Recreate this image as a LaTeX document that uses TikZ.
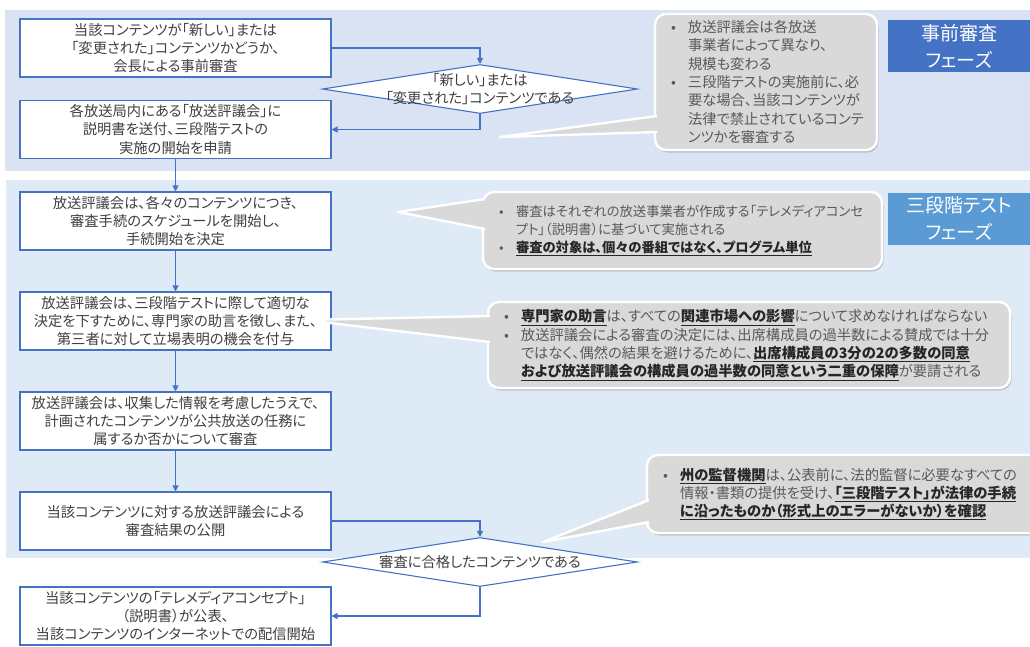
\documentclass[tikz,border=0pt]{standalone}
\usepackage{fontspec}
\setmainfont{Noto Sans CJK JP}[RawFeature=+palt]
\usepackage{tikz}
\usetikzlibrary{shapes.geometric, arrows.meta, shadows}
\definecolor{boxblue}{HTML}{4472C4}
\definecolor{phaseone}{HTML}{4472C4}
\definecolor{phasetwo}{HTML}{5B9BD5}
\definecolor{bandone}{HTML}{DAE3F3}
\definecolor{bandtwo}{HTML}{DEEBF7}
\definecolor{notegray}{HTML}{D9D9D9}
\definecolor{noteink}{HTML}{595959}
\definecolor{keyink}{HTML}{262626}
\definecolor{boxink}{HTML}{404040}
\newcommand{\itemmark}{\makebox[17pt][l]{•}}
\newcommand{\itemgap}{\hspace*{17pt}}
\newcommand{\keyword}[1]{{\color{keyink}\underline{\textbf{#1}}}}
\tikzstyle{process}  = [rectangle, minimum width=311pt, minimum height=58pt, inner sep=2pt, text centered, align=center, draw=boxblue, line width=1.1pt, fill=white, text=boxink, font=\fontsize{14.3}{18.3}\selectfont]
\tikzstyle{decision} = [diamond, minimum width=315pt, minimum height=49pt, inner sep=0pt, draw=boxblue, line width=1.1pt, fill=white]
\tikzstyle{phase}    = [rectangle, minimum width=142pt, minimum height=52pt, text centered, align=center, text=white, font=\fontsize{19}{27}\selectfont]
\tikzstyle{note}     = [rectangle, rounded corners=11pt, fill=notegray, draw=white, line width=2.4pt, drop shadow={shadow xshift=1.5pt, shadow yshift=-2.5pt, opacity=.35}, align=left, inner xsep=16pt, inner ysep=4pt, text=noteink, font=\fontsize{14.3}{18.3}\selectfont]
\tikzstyle{pointer}  = [fill=notegray, draw=white, line width=2.4pt, line join=round]
\tikzstyle{arrow}    = [line width=1.1pt, draw=boxblue, ->, >={Triangle[length=6pt, width=6pt]}]

\begin{document}
\begin{tikzpicture}[x=1pt, y=-1pt, node distance=100pt]
    \useasboundingbox (0,0) rectangle (1030,646);
    \clip (0,0) rectangle (1030,646);

    % phase bands
    \fill [bandone] (5,10) rectangle (1035,171);
    \fill [bandtwo] (6,180) rectangle (1035,558);

    \node (prephase)  [phase, fill=phaseone] at (959,46)    {事前審査\\フェーズ};
    \node (testphase) [phase, fill=phasetwo] at (959,218.5) {三段階テスト\\フェーズ};

    % flow
    \node (start)    [process] at (175.5,48)    {当該コンテンツが「新しい」または\\「変更された」コンテンツかどうか、\\会長による事前審査};
    \node (new)      [decision, label={[align=center, text=boxink, font=\fontsize{14.3}{18.3}\selectfont]center:「新しい」または\\「変更された」コンテンツである}] at (480,89) {};
    \node (apply)    [process] at (175.5,129.5) {各放送局内にある「放送評議会」に\\説明書を送付、三段階テストの\\実施の開始を申請};
    \node (schedule) [process] at (175.5,221)   {放送評議会は、各々のコンテンツにつき、\\審査手続のスケジュールを開始し、\\手続開始を決定};
    \node (hearing)  [process, below of=schedule] {放送評議会は、三段階テストに際して適切な\\決定を下すために、専門家の助言を徴し、また、\\第三者に対して立場表明の機会を付与};
    \node (assess)   [process, below of=hearing]  {放送評議会は、収集した情報を考慮したうえで、\\計画されたコンテンツが公共放送の任務に\\属するか否かについて審査};
    \node (publish)  [process, below of=assess]   {当該コンテンツに対する放送評議会による\\審査結果の公開};
    \node (passed)   [decision, label={[text=boxink, font=\fontsize{14.3}{18.3}\selectfont]center:審査に合格したコンテンツである}] at (480,562) {};
    \node (release)  [process] at (175.5,616)   {当該コンテンツの「テレメディアコンセプト」\\（説明書）が公表、\\当該コンテンツのインターネットでの配信開始};

    \draw [arrow] (start) -| (new);
    \draw [arrow] (new) |- (apply);
    \draw [arrow] (apply) -- (schedule);
    \draw [arrow] (schedule) -- (hearing);
    \draw [arrow] (hearing) -- (assess);
    \draw [arrow] (assess) -- (publish);
    \draw [arrow] (publish) -| (passed);
    \draw [arrow] (passed) |- (release);

    % callouts
    \node (board) [note, text width=190pt, minimum height=136pt] at (766,82) {%
        \itemmark 放送評議会は各放送\\
        \itemgap 事業者によって異なり、\\
        \itemgap 規模も変わる\\
        \itemmark 三段階テストの実施前に、必\\
        \itemgap 要な場合、当該コンテンツが\\
        \itemgap 法律で禁止されているコンテ\\
        \itemgap ンツかを審査する};
    \filldraw [pointer] (657,116) -- (500,137) -- (657,132);

    \node (basis) [note, text width=367pt, minimum height=77pt, font=\fontsize{13.3}{18.3}\selectfont] at (682.5,230.5) {%
        \itemmark 審査はそれぞれの放送事業者が作成する「テレメディアコンセ\\
        \itemgap プト」（説明書）に基づいて実施される\\
        \itemmark \keyword{審査の対象は、個々の番組ではなく、プログラム単位}};
    \filldraw [pointer] (485,199) -- (398,212) -- (485,229);

    \node (quorum) [note, text width=490pt, minimum height=86pt] at (749,345) {%
        \itemmark \keyword{専門家の助言}は、すべての\keyword{関連市場への影響}について求めなければならない\\
        \itemmark 放送評議会による審査の決定には、出席構成員の過半数による賛成では十分\\
        \itemgap ではなく、偶然の結果を避けるために、\keyword{出席構成員の3分の2の多数の同意}\\
        \itemgap \keyword{および放送評議会の構成員の過半数の同意という二重の保障}が要請される};
    \filldraw [pointer] (490,316) -- (305,320) -- (490,342);

    \node (supervise) [note, text width=366pt, minimum height=78pt] at (846,494) {%
        \itemmark \keyword{州の監督機関}は、公表前に、法的監督に必要なすべての\\
        \itemgap 情報・書類の提供を受け、\keyword{「三段階テスト」が法律の手続}\\
        \itemgap \keyword{に沿ったものか（形式上のエラーがないか）を確認}};
    \filldraw [pointer] (649,500) -- (543,542) -- (649,522);

\end{tikzpicture}
\end{document}
